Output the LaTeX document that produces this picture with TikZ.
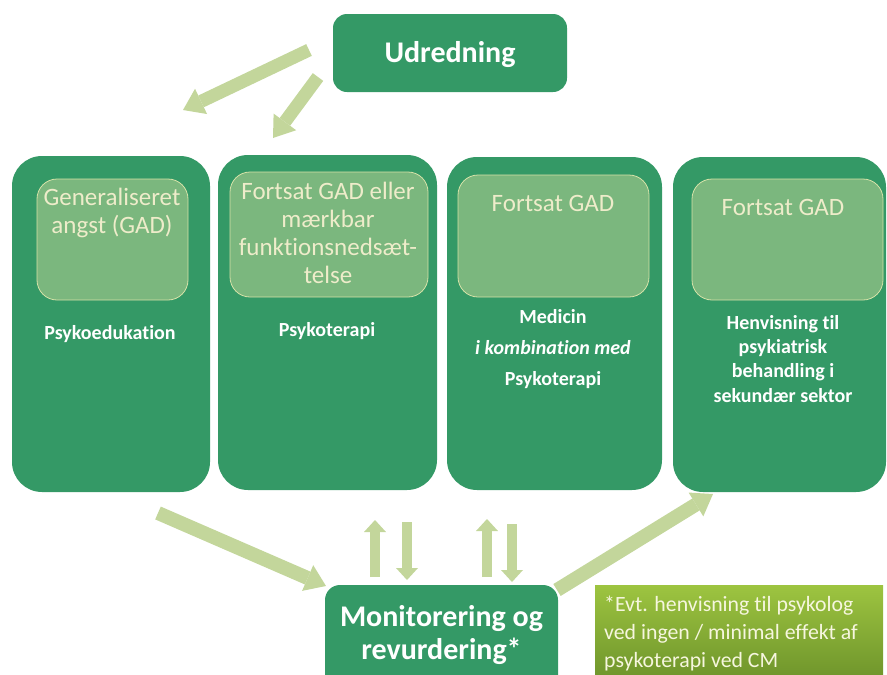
\documentclass[tikz,border=0pt]{standalone}
\usepackage{fontspec}
\setmainfont{Carlito}[Ligatures=NoCommon]
\usetikzlibrary{arrows.meta}

\definecolor{gdark}{RGB}{52,153,102}
\definecolor{garrow}{RGB}{195,214,155}
\definecolor{ginner}{RGB}{123,183,126}
\definecolor{gedge}{RGB}{214,226,168}
\definecolor{cream}{RGB}{238,236,202}
\definecolor{notecream}{RGB}{246,246,222}
\definecolor{notetop}{RGB}{157,196,64}
\definecolor{notebot}{RGB}{112,150,44}

\tikzset{
  colbox/.style={fill=gdark, draw=none, rounded corners=30pt, inner sep=0pt},
  innerbox/.style={fill=ginner, draw=gedge, line width=0.8pt, rounded corners=20pt, inner sep=0pt},
  headbox/.style={fill=gdark, draw=none, rounded corners=14pt, inner sep=0pt},
  notebox/.style={top color=notetop, bottom color=notebot, draw=none, inner sep=0pt},
  headtext/.style={text=white, font=\bfseries\fontsize{30}{33}\selectfont, align=center, inner sep=0pt},
  innertext/.style={text=cream, font=\fontsize{25}{27.7}\selectfont, align=center, inner sep=0pt},
  steptext/.style={text=white, font=\bfseries\fontsize{20}{#1}\selectfont, align=center, inner sep=0pt},
  notetext/.style={text=notecream, font=\fontsize{21.8}{28}\selectfont, align=left, inner sep=0pt},
  bigarrow/.style={draw=garrow, line width=13pt,
    -{Triangle[width=28pt,length=20pt,line width=0pt]}},
  smallarrow/.style={draw=garrow, line width=10pt,
    -{Triangle[width=22pt,length=12pt,line width=0pt]}}
}

\begin{document}
\begin{tikzpicture}[x=1pt,y=-1pt]
\useasboundingbox (0,0) rectangle (887,675);

% assessment box at the top
\node[headbox, minimum width=234pt, minimum height=78pt] (udr) at (450,53) {};
\node[headtext, anchor=base] (udrtxt) at (450,62) {Udredning};

% the four treatment steps
\node[colbox, minimum width=198pt, minimum height=336pt] (c1) at (111,324) {};
\node[colbox, minimum width=219pt, minimum height=335pt] (c2) at (327.5,322.5) {};
\node[colbox, minimum width=215pt, minimum height=333pt] (c3) at (554.5,323.5) {};
\node[colbox, minimum width=213pt, minimum height=335pt] (c4) at (779.5,324.5) {};

\node[innerbox, minimum width=151pt, minimum height=121pt] (i1) at (112.5,239.5) {};
\node[innerbox, minimum width=198pt, minimum height=125pt] (i2) at (329,234.5) {};
\node[innerbox, minimum width=191pt, minimum height=122pt] (i3) at (553.5,236) {};
\node[innerbox, minimum width=191pt, minimum height=121pt] (i4) at (787.5,239.5) {};

% multi-line texts are placed by the baseline of their last line
\node[innertext, anchor=base] (i1txt) at (112,233) {Generaliseret\\angst (GAD)};
\node[innertext, anchor=base] (i2txt) at (328,283) {Fortsat GAD eller\\mærkbar\\funktionsnedsæt-\\telse};
\node[innertext, anchor=base] (i3txt) at (553,211) {Fortsat GAD};
\node[innertext, anchor=base] (i4txt) at (783,215) {Fortsat GAD};

\node[steptext=24, anchor=base] (s1) at (110,339) {Psykoedukation};
\node[steptext=24, anchor=base] (s2) at (327,336) {Psykoterapi};
\node[steptext=31, anchor=base] (s3) at (553,385) {Medicin\\\textit{i kombination med}\\Psykoterapi};
\node[steptext=24.3, anchor=base] (s4) at (783,402) {Henvisning til\\psykiatrisk\\behandling i\\sekundær sektor};

% monitoring box and footnote
\node[headbox, rounded corners=15pt, minimum width=233pt, minimum height=105pt] (mon) at (441.5,637.5) {};
\node[headtext, anchor=base] (montxt) at (441.5,659) {Monitorering og\\revurdering*};

\node[notebox, minimum width=288pt, minimum height=91pt, anchor=north west] (note) at (595,585) {};
\node[notetext, anchor=base west] (notetxt) at (604,667) {*Evt. henvisning til psykolog\\ved ingen / minimal effekt af\\psykoterapi ved CM};

% arrow end points
\coordinate (a1s) at (309,50);  \coordinate (a1e) at (183,110);
\coordinate (a2s) at (318,77);  \coordinate (a2e) at (273,138);
\coordinate (a3s) at (158,513); \coordinate (a3e) at (326,586);
\coordinate (a4s) at (557,590); \coordinate (a4e) at (713,494);
\coordinate (u1s) at (375,577); \coordinate (u1e) at (375,520);
\coordinate (d1s) at (407,522); \coordinate (d1e) at (407,580);
\coordinate (u2s) at (487,577); \coordinate (u2e) at (487,519);
\coordinate (d2s) at (512,524); \coordinate (d2e) at (512,582);

% arrows
\draw[bigarrow] (a1s) -- (a1e);
\draw[bigarrow] (a2s) -- (a2e);
\draw[bigarrow, line width=14pt] (a3s) -- (a3e);
\draw[bigarrow, line width=14pt] (a4s) -- (a4e);
\draw[smallarrow] (u1s) -- (u1e);
\draw[smallarrow] (d1s) -- (d1e);
\draw[smallarrow] (u2s) -- (u2e);
\draw[smallarrow] (d2s) -- (d2e);
\end{tikzpicture}
\end{document}
